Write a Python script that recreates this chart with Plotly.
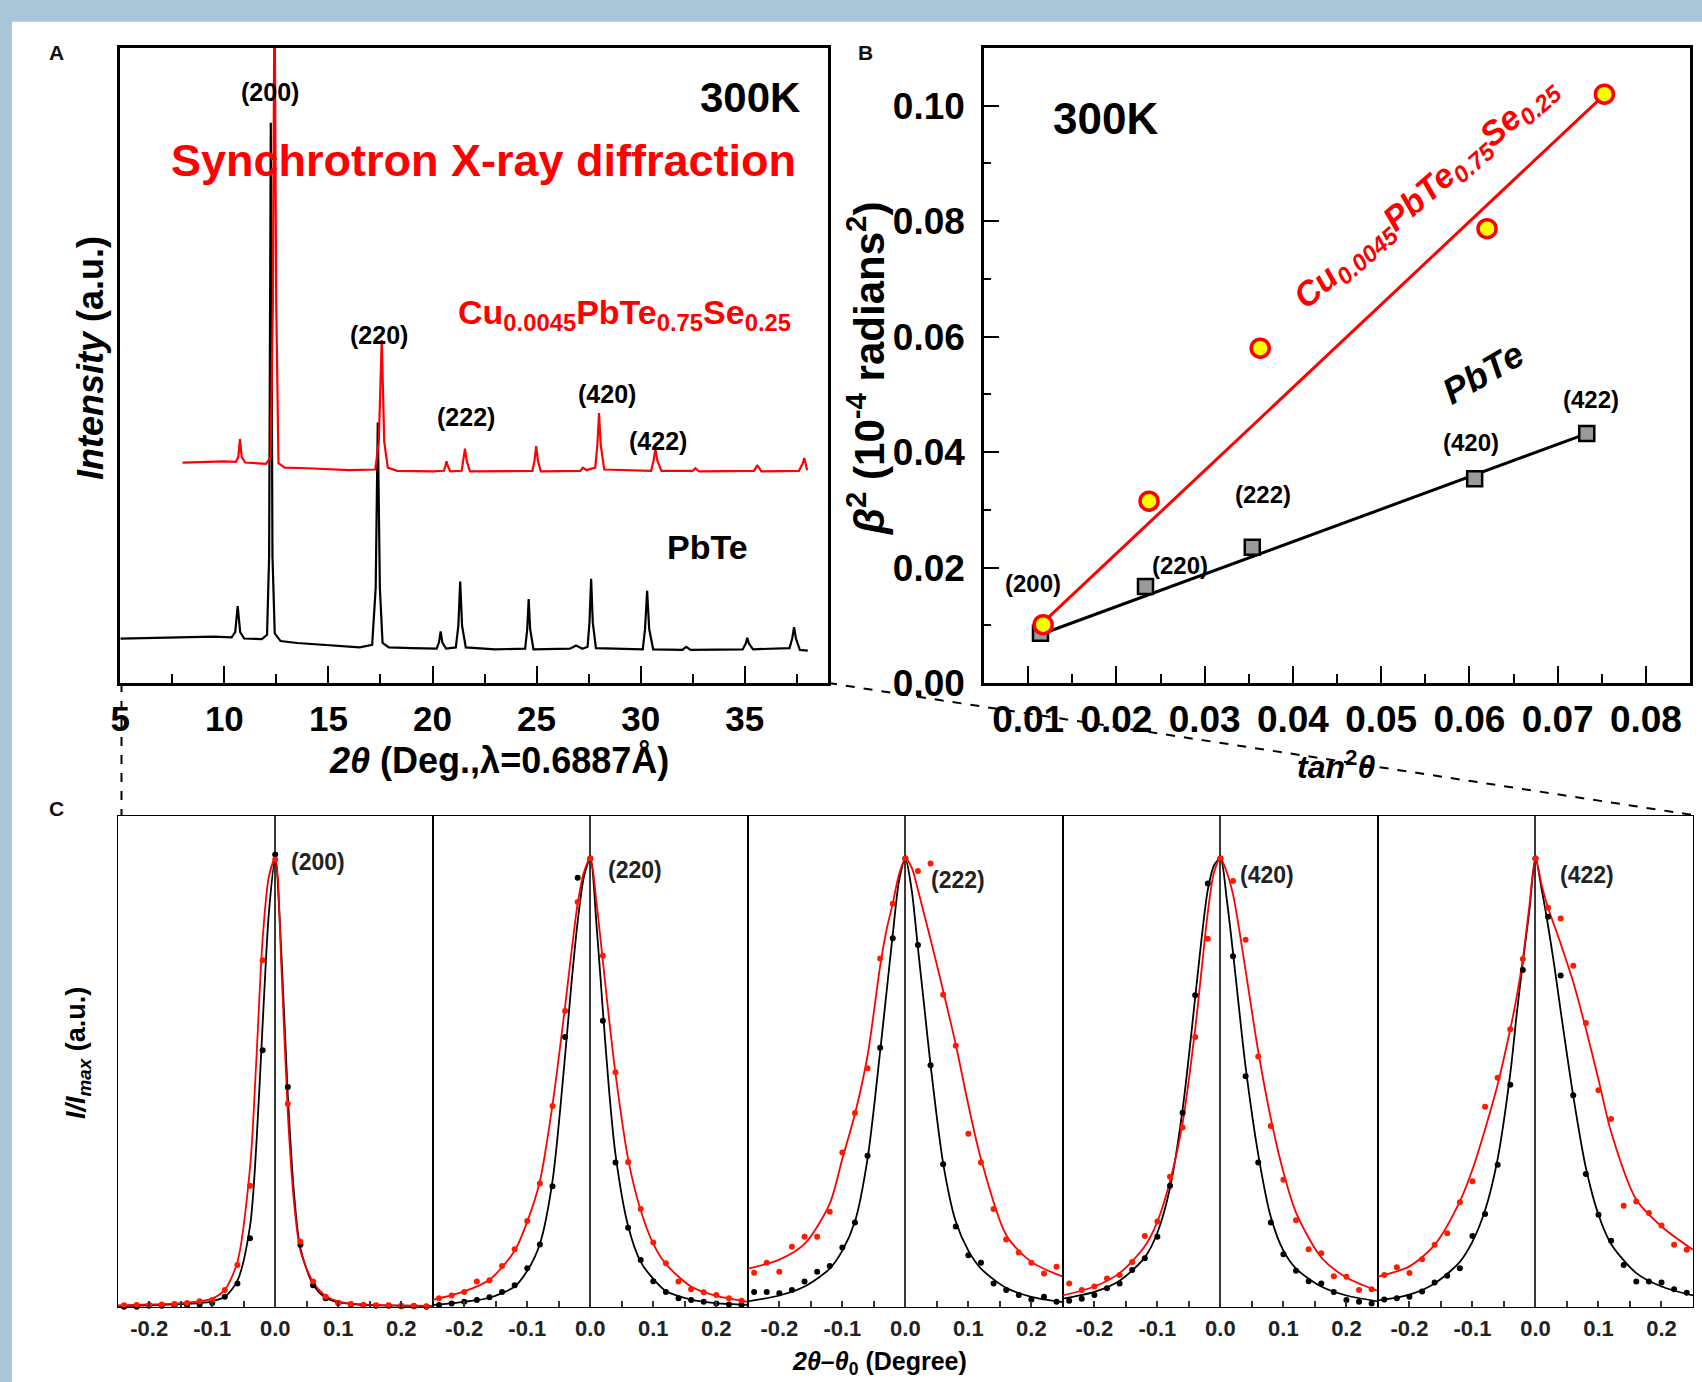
import plotly.graph_objects as go

W, H = 1702, 1382
FONT = "Liberation Sans, Arial, Helvetica, sans-serif"
BLUE = "#a8c6d8"
RED = "#ff0000"


def fx(px):
    return px / W


def fy(py):
    return 1 - py / H


# ---------------- Panel A: synchrotron XRD patterns (offset intensities) ----------------
PBTE_2THETA = [5.0, 6.5, 8.0, 9.5, 10.35, 10.52, 10.64, 10.76, 10.95, 11.8, 12.05, 12.15, 12.23, 12.31,
               12.42, 12.7, 13.5, 15.0, 16.5, 17.1, 17.27, 17.37, 17.47, 17.6, 17.9, 19.0, 20.2, 20.31,
               20.39, 20.47, 20.65, 21.12, 21.24, 21.33, 21.42, 21.6, 23.0, 24.45, 24.55, 24.62, 24.69,
               24.85, 26.6, 26.9, 27.2, 27.45, 27.54, 27.62, 27.70, 27.85, 30.1, 30.21, 30.31, 30.41,
               30.6, 32.0, 32.19, 32.4, 34.9, 35.05, 35.12, 35.2, 35.4, 37.15, 37.28, 37.37, 37.46,
               37.65, 38.03]
PBTE_INT = [7.0, 7.1, 7.2, 7.3, 7.2, 8.0, 12.1, 8.0, 7.0, 6.9, 7.6, 20.0, 88.2, 20.0,
            7.8, 6.6, 6.3, 5.9, 5.6, 6.0, 15.0, 41.0, 15.0, 6.3, 5.6, 5.5, 5.4, 6.4,
            8.1, 6.4, 5.4, 5.6, 9.0, 15.95, 9.0, 5.6, 5.3, 5.4, 8.5, 13.2, 8.5,
            5.3, 5.4, 5.9, 5.4, 5.7, 9.5, 16.4, 9.5, 5.5, 5.3, 8.5, 14.5, 8.5,
            5.3, 5.2, 5.7, 5.2, 5.3, 6.2, 7.1, 6.2, 5.3, 5.5, 7.0, 8.8, 7.0,
            5.2, 5.1]

CU_2THETA = [7.99, 9.0, 10.0, 10.55, 10.67, 10.75, 10.83, 11.0, 12.0, 12.22, 12.33, 12.41, 12.49,
             12.6, 12.9, 14.0, 16.0, 17.25, 17.42, 17.56, 17.68, 17.85, 18.3, 20.0, 20.55, 20.62,
             20.67, 20.73, 20.85, 21.4, 21.48, 21.56, 21.64, 21.8, 24.8, 24.9, 24.98, 25.06, 25.2,
             27.1, 27.23, 27.4, 27.82, 27.92, 28.0, 28.08, 28.25, 30.5, 30.62, 30.71, 30.8, 31.0,
             32.5, 32.63, 32.8, 35.45, 35.55, 35.6, 35.66, 35.8, 37.6, 37.78, 37.86, 37.94, 38.0]
CU_INT = [34.7, 34.8, 34.9, 34.8, 35.6, 38.4, 35.6, 34.7, 34.5, 35.5, 60.0, 112.0, 60.0,
          34.6, 33.9, 33.8, 33.5, 33.6, 38.0, 54.0, 38.0, 33.9, 33.4, 33.3, 33.4, 34.2,
          34.9, 34.2, 33.3, 33.4, 35.0, 36.9, 35.0, 33.3, 33.4, 35.0, 37.3, 35.0, 33.3,
          33.4, 33.9, 33.5, 33.9, 37.5, 42.5, 37.5, 33.6, 33.4, 35.0, 36.9, 35.0, 33.4,
          33.4, 33.8, 33.3, 33.4, 34.0, 34.2, 34.0, 33.3, 33.4, 34.5, 35.4, 34.5, 33.5]

A_PEAK_LABELS = ["(200)", "(220)", "(222)", "(420)", "(422)"]
A_PEAK_LABEL_X = [12.2, 17.43, 21.61, 28.38, 30.83]
A_PEAK_LABEL_Y = [93.0, 54.8, 41.9, 45.5, 38.1]

# ---------------- Panel B: peak broadening vs tan^2(theta) ----------------
PBTE_TAN2 = [0.0114, 0.0233, 0.0354, 0.0606, 0.0733]
PBTE_BETA2 = [0.0086, 0.0167, 0.0235, 0.0354, 0.0432]
CU_TAN2 = [0.0117, 0.0237, 0.0363, 0.0620, 0.0753]
CU_BETA2 = [0.0101, 0.0315, 0.0580, 0.0787, 0.1020]
PBTE_FIT_X = [0.0114, 0.0733]
PBTE_FIT_Y = [0.0084, 0.0432]
CU_FIT_X = [0.0117, 0.0748]
CU_FIT_Y = [0.0105, 0.1012]
B_LABEL_X = [0.0106, 0.0272, 0.0366, 0.0602, 0.0738]
B_LABEL_Y = [0.0173, 0.0203, 0.0326, 0.0416, 0.0491]

# ---------------- Panel C: normalised peak profiles ----------------
DOT_X = [-0.24, -0.22, -0.20, -0.18, -0.16, -0.14, -0.12, -0.10, -0.08, -0.06, -0.04, -0.02, 0.00,
         0.02, 0.04, 0.06, 0.08, 0.10, 0.12, 0.14, 0.16, 0.18, 0.20, 0.22, 0.24]
CURVE_X = [-0.25, -0.20, -0.16, -0.12, -0.10, -0.08, -0.06, -0.04, -0.03, -0.02, -0.01, 0.00,
           0.01, 0.02, 0.03, 0.04, 0.06, 0.08, 0.10, 0.12, 0.16, 0.20, 0.25]

PBTE_DOTS_200 = [0.000, 0.000, 0.002, 0.002, 0.003, 0.004, 0.005, 0.008, 0.022, 0.052, 0.153, 0.572, 1.009,
                 0.490, 0.138, 0.048, 0.019, 0.008, 0.005, 0.003, 0.002, 0.002, 0.001, 0.001, 0.000]
CU_DOTS_200 = [0.003, 0.004, 0.004, 0.005, 0.006, 0.008, 0.012, 0.015, 0.037, 0.093, 0.270, 0.773, 0.998,
               0.453, 0.145, 0.056, 0.022, 0.009, 0.006, 0.004, 0.003, 0.003, 0.002, 0.002, 0.001]
PBTE_DOTS_220 = [0.004, 0.007, 0.011, 0.015, 0.021, 0.033, 0.048, 0.086, 0.139, 0.269, 0.602, 0.957, 1.000,
                 0.638, 0.322, 0.176, 0.104, 0.057, 0.033, 0.019, 0.015, 0.011, 0.007, 0.005, 0.004]
CU_DOTS_220 = [0.019, 0.025, 0.033, 0.056, 0.059, 0.091, 0.128, 0.191, 0.275, 0.448, 0.660, 0.903, 1.000,
               0.783, 0.523, 0.323, 0.218, 0.143, 0.097, 0.056, 0.039, 0.032, 0.026, 0.019, 0.013]
PBTE_DOTS_222 = [0.033, 0.033, 0.030, 0.037, 0.056, 0.078, 0.091, 0.132, 0.188, 0.337, 0.578, 0.822, 1.000,
                 0.807, 0.539, 0.318, 0.179, 0.115, 0.098, 0.052, 0.037, 0.026, 0.016, 0.022, 0.011]
CU_DOTS_222 = [0.076, 0.098, 0.078, 0.134, 0.156, 0.156, 0.212, 0.344, 0.432, 0.532, 0.777, 0.899, 1.000,
               0.972, 0.989, 0.696, 0.582, 0.386, 0.322, 0.218, 0.150, 0.121, 0.098, 0.074, 0.089]
PBTE_DOTS_420 = [0.013, 0.018, 0.026, 0.041, 0.052, 0.082, 0.108, 0.156, 0.270, 0.433, 0.695, 0.944, 1.000,
                 0.782, 0.514, 0.322, 0.188, 0.117, 0.080, 0.057, 0.052, 0.033, 0.015, 0.011, 0.007]
CU_DOTS_420 = [0.052, 0.037, 0.045, 0.063, 0.071, 0.100, 0.158, 0.190, 0.290, 0.400, 0.602, 0.821, 1.000,
               0.950, 0.819, 0.558, 0.403, 0.283, 0.193, 0.128, 0.119, 0.068, 0.067, 0.037, 0.039]
PBTE_DOTS_422 = [0.016, 0.019, 0.022, 0.034, 0.054, 0.069, 0.086, 0.158, 0.207, 0.317, 0.495, 0.751, 1.000,
                 0.870, 0.739, 0.472, 0.296, 0.205, 0.147, 0.093, 0.056, 0.056, 0.054, 0.039, 0.031]
CU_DOTS_422 = [0.071, 0.088, 0.075, 0.106, 0.138, 0.164, 0.233, 0.280, 0.446, 0.511, 0.619, 0.776, 1.000,
               0.890, 0.866, 0.761, 0.633, 0.483, 0.419, 0.225, 0.235, 0.209, 0.181, 0.138, 0.127]

PBTE_FIT_200 = [0.000, 0.003, 0.005, 0.008, 0.012, 0.022, 0.058, 0.180, 0.360, 0.630, 0.880, 1.000,
                0.780, 0.470, 0.250, 0.130, 0.050, 0.020, 0.010, 0.006, 0.003, 0.002, 0.000]
CU_FIT_200 = [0.003, 0.005, 0.007, 0.012, 0.018, 0.038, 0.100, 0.310, 0.550, 0.820, 0.960, 1.000,
              0.750, 0.430, 0.230, 0.125, 0.055, 0.024, 0.012, 0.007, 0.004, 0.003, 0.002]
PBTE_FIT_220 = [0.004, 0.011, 0.020, 0.045, 0.080, 0.140, 0.280, 0.560, 0.720, 0.860, 0.960, 1.000,
                0.850, 0.660, 0.480, 0.340, 0.180, 0.100, 0.062, 0.035, 0.016, 0.008, 0.004]
CU_FIT_220 = [0.015, 0.034, 0.060, 0.125, 0.190, 0.280, 0.450, 0.670, 0.790, 0.900, 0.970, 1.000,
              0.900, 0.770, 0.640, 0.520, 0.330, 0.215, 0.140, 0.095, 0.045, 0.024, 0.011]
PBTE_FIT_222 = [0.012, 0.025, 0.045, 0.085, 0.125, 0.190, 0.330, 0.570, 0.700, 0.830, 0.950, 1.000,
                0.930, 0.800, 0.670, 0.540, 0.320, 0.190, 0.125, 0.085, 0.042, 0.022, 0.010]
CU_FIT_222 = [0.085, 0.105, 0.140, 0.230, 0.330, 0.430, 0.560, 0.760, 0.840, 0.900, 0.965, 1.000,
              0.980, 0.930, 0.875, 0.820, 0.705, 0.585, 0.450, 0.330, 0.160, 0.100, 0.067]
PBTE_FIT_420 = [0.018, 0.033, 0.058, 0.110, 0.165, 0.265, 0.440, 0.690, 0.820, 0.930, 0.985, 1.000,
                0.910, 0.790, 0.660, 0.535, 0.340, 0.200, 0.125, 0.085, 0.045, 0.025, 0.012]
CU_FIT_420 = [0.025, 0.045, 0.075, 0.135, 0.190, 0.280, 0.410, 0.620, 0.750, 0.880, 0.970, 1.000,
              0.970, 0.920, 0.840, 0.750, 0.570, 0.420, 0.300, 0.210, 0.110, 0.065, 0.035]
PBTE_FIT_422 = [0.014, 0.027, 0.052, 0.100, 0.145, 0.215, 0.330, 0.520, 0.650, 0.770, 0.880, 1.000,
                0.930, 0.850, 0.760, 0.660, 0.470, 0.310, 0.205, 0.140, 0.075, 0.045, 0.025]
CU_FIT_422 = [0.067, 0.090, 0.138, 0.235, 0.306, 0.396, 0.496, 0.619, 0.690, 0.776, 0.890, 1.000,
              0.940, 0.890, 0.850, 0.810, 0.724, 0.620, 0.507, 0.390, 0.239, 0.179, 0.127]

C_REFLECTIONS = ["(200)", "(220)", "(222)", "(420)", "(422)"]
C_LABEL_X = [0.022, 0.025, 0.038, 0.028, 0.035]
C_LABEL_Y = [0.992, 0.974, 0.951, 0.964, 0.964]

PBTE_DOTS = [PBTE_DOTS_200, PBTE_DOTS_220, PBTE_DOTS_222, PBTE_DOTS_420, PBTE_DOTS_422]
CU_DOTS = [CU_DOTS_200, CU_DOTS_220, CU_DOTS_222, CU_DOTS_420, CU_DOTS_422]
PBTE_FITS = [PBTE_FIT_200, PBTE_FIT_220, PBTE_FIT_222, PBTE_FIT_420, PBTE_FIT_422]
CU_FITS = [CU_FIT_200, CU_FIT_220, CU_FIT_222, CU_FIT_420, CU_FIT_422]

fig = go.Figure()

# Panel A traces
fig.add_trace(go.Scatter(x=PBTE_2THETA, y=PBTE_INT, mode="lines", xaxis="x", yaxis="y",
                         line=dict(color="black", width=2.2), showlegend=False))
fig.add_trace(go.Scatter(x=CU_2THETA, y=CU_INT, mode="lines", xaxis="x", yaxis="y",
                         line=dict(color=RED, width=2.2), showlegend=False))

# Panel B traces
fig.add_trace(go.Scatter(x=PBTE_FIT_X, y=PBTE_FIT_Y, mode="lines", xaxis="x2", yaxis="y2",
                         line=dict(color="black", width=3), showlegend=False))
fig.add_trace(go.Scatter(x=PBTE_TAN2, y=PBTE_BETA2, mode="markers", xaxis="x2", yaxis="y2",
                         marker=dict(symbol="square", size=15, color="#9a9a9a",
                                     line=dict(color="black", width=2.5)), showlegend=False))
fig.add_trace(go.Scatter(x=CU_FIT_X, y=CU_FIT_Y, mode="lines", xaxis="x2", yaxis="y2",
                         line=dict(color=RED, width=3), showlegend=False))
fig.add_trace(go.Scatter(x=CU_TAN2, y=CU_BETA2, mode="markers", xaxis="x2", yaxis="y2",
                         marker=dict(symbol="circle", size=18, color="#ffff00",
                                     line=dict(color=RED, width=3.5)), showlegend=False))

# Panel C traces, one subplot per reflection
C_LEFT, C_RIGHT = 117.7, 1693.0
C_STEP = (C_RIGHT - C_LEFT) / 5
for i in range(5):
    xa = "x%d" % (i + 3)
    ya = "y%d" % (i + 3)
    fig.add_trace(go.Scatter(x=CURVE_X, y=PBTE_FITS[i], mode="lines", xaxis=xa, yaxis=ya,
                             line=dict(color="black", width=1.8, shape="spline", smoothing=0.8),
                             showlegend=False))
    fig.add_trace(go.Scatter(x=CURVE_X, y=CU_FITS[i], mode="lines", xaxis=xa, yaxis=ya,
                             line=dict(color=RED, width=1.8, shape="spline", smoothing=0.8),
                             showlegend=False))
    fig.add_trace(go.Scatter(x=DOT_X, y=PBTE_DOTS[i], mode="markers", xaxis=xa, yaxis=ya,
                             marker=dict(size=6, color="black"), cliponaxis=False, showlegend=False))
    fig.add_trace(go.Scatter(x=DOT_X, y=CU_DOTS[i], mode="markers", xaxis=xa, yaxis=ya,
                             marker=dict(size=6, color="#ff1a00"), cliponaxis=False, showlegend=False))


def bold_font(size, color="black"):
    return dict(family=FONT, size=size, color=color, weight="bold")


layout = dict(
    width=W, height=H,
    margin=dict(l=0, r=0, t=0, b=0, autoexpand=False),
    paper_bgcolor="white",
    plot_bgcolor="white",
    font=dict(family=FONT, color="black"),
    showlegend=False,
    xaxis=dict(domain=[fx(120.3), fx(828)], range=[5, 39], anchor="y",
               showline=True, mirror=True, linecolor="black", linewidth=2.5,
               ticks="inside", tickvals=[5, 10, 15, 20, 25, 30, 35], ticklen=17, tickwidth=2,
               tickcolor="black", minor=dict(ticks="inside", ticklen=9, tickwidth=2,
                                             tickcolor="black", dtick=2.5, tick0=0),
               tickfont=bold_font(35), ticklabelstandoff=3, showgrid=False, zeroline=False),
    yaxis=dict(domain=[fy(683), fy(47.7)], range=[0, 100], anchor="x",
               showline=True, mirror=True, linecolor="black", linewidth=2.5,
               ticks="", showticklabels=False, showgrid=False, zeroline=False),
    xaxis2=dict(domain=[fx(984), fx(1690)], range=[0.005, 0.085], anchor="y2",
                showline=True, mirror=True, linecolor="black", linewidth=2.5,
                ticks="inside", tick0=0.01, dtick=0.01, ticklen=17, tickwidth=2, tickcolor="black",
                minor=dict(ticks="inside", ticklen=9, tickwidth=2, tickcolor="black",
                           dtick=0.005, tick0=0.005),
                tickformat=".2f", tickfont=bold_font(37), ticklabelstandoff=2,
                showgrid=False, zeroline=False),
    yaxis2=dict(domain=[fy(683), fy(48)], range=[0, 0.11], anchor="x2",
                showline=True, mirror=True, linecolor="black", linewidth=2.5,
                ticks="inside", tick0=0, dtick=0.02, ticklen=15, tickwidth=2, tickcolor="black",
                minor=dict(ticks="inside", ticklen=7, tickwidth=2, tickcolor="black",
                           dtick=0.01, tick0=0),
                tickformat=".2f", tickfont=bold_font(37), ticklabelstandoff=9,
                showgrid=False, zeroline=False),
)

for i in range(5):
    left = C_LEFT + i * C_STEP
    layout["xaxis%d" % (i + 3)] = dict(
        domain=[fx(left), fx(left + C_STEP)], range=[-0.25, 0.25], anchor="y%d" % (i + 3),
        showline=True, mirror=True, linecolor="black", linewidth=1.2,
        ticks="inside", tickvals=[-0.2, -0.1, 0.0, 0.1, 0.2],
        ticktext=["-0.2", "-0.1", "0.0", "0.1", "0.2"],
        ticklen=6, tickwidth=1.5, tickcolor="#333",
        minor=dict(ticks="inside", ticklen=6, tickwidth=1.5, tickcolor="#333", dtick=0.05, tick0=0),
        tickfont=bold_font(22, "#222"), ticklabelstandoff=2,
        showgrid=False, zeroline=True, zerolinecolor="#3a3a3a", zerolinewidth=1.6)
    layout["yaxis%d" % (i + 3)] = dict(
        domain=[fy(1306.7), fy(815.5)], range=[0, 1.096], anchor="x%d" % (i + 3),
        showline=True, mirror=True, linecolor="black", linewidth=1.2,
        ticks="", showticklabels=False, showgrid=False, zeroline=False)

fig.update_layout(**layout)

shapes = [
    # framing bands around the figure
    dict(type="rect", xref="paper", yref="paper", x0=0, x1=1, y0=fy(21.7), y1=1,
         fillcolor=BLUE, line=dict(width=0), layer="below"),
    dict(type="rect", xref="paper", yref="paper", x0=0, x1=fx(12), y0=0, y1=1,
         fillcolor=BLUE, line=dict(width=0), layer="below"),
    # zoom connector lines from panel A to panel C
    dict(type="line", xref="paper", yref="paper", x0=fx(121.5), y0=fy(683), x1=fx(121.5), y1=fy(815),
         line=dict(color="black", width=2, dash="dash"), layer="above"),
    dict(type="line", xref="paper", yref="paper", x0=fx(828), y0=fy(683), x1=fx(1693), y1=fy(815),
         line=dict(color="black", width=2, dash="dash"), layer="above"),
]
fig.update_layout(shapes=shapes)

ann = []


def paper_text(px, py, text, size, color="black", angle=0, xanchor="center", yanchor="middle"):
    ann.append(dict(x=fx(px), y=fy(py), xref="paper", yref="paper", text=text, showarrow=False,
                    font=dict(family=FONT, size=size, color=color), textangle=angle,
                    xanchor=xanchor, yanchor=yanchor))


# panel letters
paper_text(56.5, 52, "<b>A</b>", 21, "#111")
paper_text(865, 52, "<b>B</b>", 21, "#111")
paper_text(56.5, 808, "<b>C</b>", 21, "#111")

# panel A texts
paper_text(91, 358, "<b><i>Intensity</i> (a.u.)</b>", 36, angle=-90)
paper_text(499, 760, "<b><i>2θ</i> (Deg.,λ=0.6887Å)</b>", 36)
for lab, lx, ly in zip(A_PEAK_LABELS, A_PEAK_LABEL_X, A_PEAK_LABEL_Y):
    ann.append(dict(x=lx, y=ly, xref="x", yref="y", text="<b>%s</b>" % lab, showarrow=False,
                    xanchor="center", yanchor="middle",
                    font=dict(family=FONT, size=25, color="black")))
ann.append(dict(x=37.75, y=92.1, xref="x", yref="y", text="<b>300K</b>", showarrow=False,
                xanchor="right", yanchor="middle", font=dict(family=FONT, size=42, color="black")))
ann.append(dict(x=22.43, y=82.3, xref="x", yref="y", text="<b>Synchrotron X-ray diffraction</b>",
                showarrow=False, xanchor="center", yanchor="middle",
                font=dict(family=FONT, size=45, color=RED)))
ann.append(dict(x=29.22, y=58.0, xref="x", yref="y",
                text="<b>Cu<sub>0.0045</sub>PbTe<sub>0.75</sub>Se<sub>0.25</sub></b>",
                showarrow=False, xanchor="center", yanchor="middle",
                font=dict(family=FONT, size=34, color=RED)))
ann.append(dict(x=33.23, y=21.4, xref="x", yref="y", text="<b>PbTe</b>", showarrow=False,
                xanchor="center", yanchor="middle", font=dict(family=FONT, size=34, color="black")))

# panel B texts
paper_text(866, 369, "<b><i>β</i><sup>2</sup> (10<sup>-4</sup> radians<sup>2</sup>)</b>", 42, angle=-90)
paper_text(1336, 765, "<b><i>tan</i><sup>2</sup><i>θ</i></b>", 32)
for lab, lx, ly in zip(C_REFLECTIONS, B_LABEL_X, B_LABEL_Y):
    ann.append(dict(x=lx, y=ly, xref="x2", yref="y2", text="<b>%s</b>" % lab, showarrow=False,
                    xanchor="center", yanchor="middle",
                    font=dict(family=FONT, size=24, color="black")))
ann.append(dict(x=0.0188, y=0.0978, xref="x2", yref="y2", text="<b>300K</b>", showarrow=False,
                xanchor="center", yanchor="middle", font=dict(family=FONT, size=44, color="black")))
ann.append(dict(x=0.0551, y=0.0848, xref="x2", yref="y2",
                text="<b><i>Cu<sub>0.0045</sub>PbTe<sub>0.75</sub>Se<sub>0.25</sub></i></b>",
                showarrow=False, textangle=-41, xanchor="center", yanchor="middle",
                font=dict(family=FONT, size=34, color=RED)))
ann.append(dict(x=0.0616, y=0.0537, xref="x2", yref="y2", text="<b><i>PbTe</i></b>",
                showarrow=False, textangle=-30, xanchor="center", yanchor="middle",
                font=dict(family=FONT, size=36, color="black")))

# panel C texts
paper_text(78, 1053, "<b><i>I/I</i><sub><i>max</i></sub> (a.u.)</b>", 27, angle=-90)
paper_text(879, 1381, "<b><i>2θ–θ</i><sub>0</sub> (Degree)</b>", 25, yanchor="bottom")
for i in range(5):
    ann.append(dict(x=C_LABEL_X[i], y=C_LABEL_Y[i], xref="x%d" % (i + 3), yref="y%d" % (i + 3),
                    text="<b>%s</b>" % C_REFLECTIONS[i], showarrow=False, xanchor="left",
                    yanchor="middle", font=dict(family=FONT, size=23, color="#222")))

fig.update_layout(annotations=ann)

fig.write_html("out.html")
